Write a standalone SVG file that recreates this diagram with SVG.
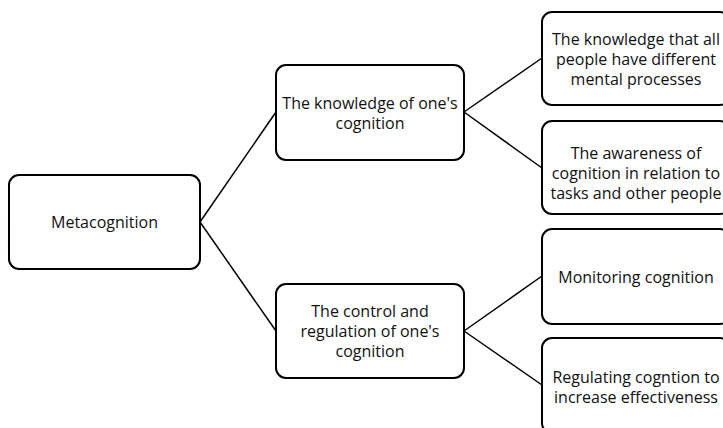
<svg xmlns="http://www.w3.org/2000/svg" width="723" height="428" viewBox="0 0 723 428">
  <style>
    .box { fill: #ffffff; stroke: #000000; stroke-width: 2; }
    .lbl { font-family: "Open Sans", "Liberation Sans", sans-serif; font-size: 16px; fill: #111111; text-anchor: middle; }
    .edge { stroke: #000000; stroke-width: 1.5; fill: none; }
  </style>
  <rect width="723" height="428" fill="#ffffff"/>

  <g id="connectors">
    <path class="edge" d="M200 222 L276 112"/>
    <path class="edge" d="M200 222 L276 331"/>
    <path class="edge" d="M464 112 L542 58"/>
    <path class="edge" d="M464 112 L542 168"/>
    <path class="edge" d="M464 331 L542 276"/>
    <path class="edge" d="M464 331 L542 385"/>
  </g>

  <g id="metacognition">
    <rect class="box" x="9" y="175" width="191" height="94" rx="10"/>
    <text class="lbl" x="104.5" y="228">Metacognition</text>
  </g>

  <g id="knowledge">
    <rect class="box" x="276" y="65" width="188" height="95" rx="10"/>
    <text class="lbl" x="370" y="109">The knowledge of one's</text>
    <text class="lbl" x="370" y="129">cognition</text>
  </g>

  <g id="control">
    <rect class="box" x="276" y="284" width="188" height="94" rx="10"/>
    <text class="lbl" x="370" y="317">The control and</text>
    <text class="lbl" x="370" y="337">regulation of one's</text>
    <text class="lbl" x="370" y="357">cognition</text>
  </g>

  <g id="different-processes">
    <rect class="box" x="542" y="12" width="188" height="93" rx="10"/>
    <text class="lbl" x="636" y="45">The knowledge that all</text>
    <text class="lbl" x="636" y="65">people have different</text>
    <text class="lbl" x="636" y="85">mental processes</text>
  </g>

  <g id="awareness">
    <rect class="box" x="542" y="121" width="188" height="93" rx="10"/>
    <text class="lbl" x="636" y="159">The awareness of</text>
    <text class="lbl" x="636" y="179">cognition in relation to</text>
    <text class="lbl" x="636" y="199">tasks and other people</text>
  </g>

  <g id="monitoring">
    <rect class="box" x="542" y="229" width="188" height="95" rx="10"/>
    <text class="lbl" x="636" y="283">Monitoring cognition</text>
  </g>

  <g id="regulating">
    <rect class="box" x="542" y="338" width="188" height="95" rx="10"/>
    <text class="lbl" x="636" y="383">Regulating cogntion to</text>
    <text class="lbl" x="636" y="403">increase effectiveness</text>
  </g>
</svg>
